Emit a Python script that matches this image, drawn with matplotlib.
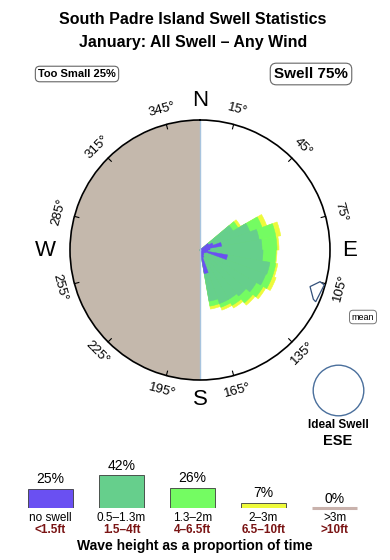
import matplotlib
matplotlib.use('Agg')
import matplotlib.pyplot as plt
import matplotlib.transforms as mtransforms
import numpy as np
from matplotlib.patches import Ellipse, Polygon

plt.rcParams['font.family'] = ['Liberation Sans', 'DejaVu Sans']

# ---------------- data ----------------
title1 = "South Padre Island Swell Statistics"
title2 = "January: All Swell \u2013 Any Wind"
too_small_label = "Too Small 25%"
swell_label = "Swell 75%"

# swell rose: 10-degree direction bins (centres, degrees true)
dir_centers = [55, 65, 75, 85, 95, 105, 115, 125, 135, 145, 155, 165]
# cumulative outer radius of each wave-height class (rose radius units, max 130)
no_swell_r = [10, 14, 22, 10, 8, 28, 6, 5, 5, 6, 8, 24]
r_05_13 = [38, 53, 60, 62, 63, 71, 70, 65, 60, 57, 57, 52]
r_13_2 = [44, 66, 77, 77, 76, 77, 77, 73, 69, 64, 61, 57]
r_2_3 = [47, 71, 82, 79, 77, 79, 81, 76, 72, 67, 64, 60]
rose_max = 130
bin_width = 10

dir_ticks = [15, 45, 75, 105, 135, 165, 195, 225, 255, 285, 315, 345]
compass = ['N', 'E', 'S', 'W']
compass_dirs = [0, 90, 180, 270]
mean_dir = 110
ideal_label = "Ideal Swell"
ideal_dir = "ESE"

# legend
cats = ["no swell", "0.5\u20131.3m", "1.3\u20132m", "2\u20133m", ">3m"]
feet = ["<1.5ft", "1.5\u20134ft", "4\u20136.5ft", "6.5\u201310ft", ">10ft"]
pct = [25, 42, 26, 7, 0]
legend_title = "Wave height as a proportion of time"

col_purple = '#6A50F2'
col_dgreen = '#66CF8C'
col_lgreen = '#74FC62'
col_yellow = '#EEFA3A'
col_big = '#C9B2AC'
cat_colors = [col_purple, col_dgreen, col_lgreen, col_yellow, col_big]
land = '#C4B8AC'
dark_red = '#7A1414'

# ---------------- figure ----------------
W, H = 390, 560
fig = plt.figure(figsize=(W / 100, H / 100), dpi=100)
fig.patch.set_facecolor('white')

def fx(x):
    return x / W

def fy(y):
    return 1 - y / H

fig.text(fx(193), fy(19), title1, ha='center', va='center', fontsize=11.5, fontweight='bold')
fig.text(fx(193), fy(42), title2, ha='center', va='center', fontsize=11.5, fontweight='bold')

box = dict(boxstyle='round,pad=0.25,rounding_size=0.4', fc='white', ec='#666666', lw=0.8)
fig.text(fx(77), fy(74), too_small_label, ha='center', va='center', fontsize=8, fontweight='bold', bbox=box)
fig.text(fx(311), fy(74), swell_label, ha='center', va='center', fontsize=11, fontweight='bold', bbox=box)

# polar rose
ax = fig.add_axes([fx(70), fy(380), 260 / W, 260 / H], projection='polar')
ax.set_theta_zero_location('N')
ax.set_theta_direction(-1)
ax.set_ylim(0, rose_max)
ax.set_xticks([])
ax.set_yticks([])
ax.grid(False)
ax.spines['polar'].set_color('black')
ax.spines['polar'].set_linewidth(1.2)

th_land = np.linspace(np.pi, 2 * np.pi, 300)
ax.fill_between(th_land, 0, rose_max, color=land, lw=0)
ax.plot([0, 0], [0, rose_max], color='#A8C4DE', lw=1)
ax.plot([np.pi, np.pi], [0, rose_max], color='#A8C4DE', lw=1)

theta = np.deg2rad(dir_centers)
w = np.deg2rad(bin_width)
ax.bar(theta, r_2_3, width=w, color=col_yellow, edgecolor=col_yellow, lw=0.4)
ax.bar(theta, r_13_2, width=w, color=col_lgreen, edgecolor=col_lgreen, lw=0.4)
ax.bar(theta, r_05_13, width=w, color=col_dgreen, edgecolor=col_dgreen, lw=0.4)
ax.bar(theta, no_swell_r, width=np.deg2rad(10), color=col_purple, edgecolor=col_purple, lw=0.3)

for d in dir_ticks:
    t = np.deg2rad(d)
    ax.plot([t, t], [rose_max * 0.965, rose_max], color='black', lw=0.8, clip_on=False)
    rot = -d
    while rot <= -90:
        rot += 180
    while rot > 90:
        rot -= 180
    ax.text(t, rose_max * 1.12, f"{d}\u00b0", ha='center', va='center',
            rotation=rot, rotation_mode='anchor', fontsize=9.5, clip_on=False)

for lab, d in zip(compass, compass_dirs):
    rr = rose_max * (1.19 if lab == 'W' else 1.15)
    ax.text(np.deg2rad(d), rr, lab, ha='center', va='center', fontsize=16, clip_on=False)

# mean direction arrow (outline shape relative to the mean direction)
arrow_da = [-1.6, -5.2, -4.3, 4.1, 3.5]
arrow_rf = [0.892, 0.955, 0.993, 0.975, 0.951]
arrow = [(np.deg2rad(mean_dir + da), rose_max * rf) for da, rf in zip(arrow_da, arrow_rf)]
ax.add_patch(Polygon(arrow, closed=True, fc='white', ec='#33507A', lw=0.9,
                     transform=ax.transData, clip_on=False, zorder=5))

fig.text(fx(363), fy(317), "mean", ha='center', va='center', fontsize=6.5,
         bbox=dict(boxstyle='round,pad=0.25,rounding_size=0.4', fc='white', ec='#777777', lw=0.7))

# ideal swell circle
fig.patches.append(Ellipse((fx(338.5), fy(390.5)), 2 * 25.3 / W, 2 * 25.3 / H,
                           transform=fig.transFigure, fill=False, ec='#4A6F9C', lw=1))
fig.text(fx(338), fy(425), ideal_label, ha='center', va='center', fontsize=8.5, fontweight='bold')
fig.text(fx(338), fy(441), ideal_dir, ha='center', va='center', fontsize=10.5, fontweight='bold')

# legend bars
lax = fig.add_axes([fx(15), fy(508), 355 / W, 45 / H])
lax.set_xlim(-0.5, 4.5)
lax.set_ylim(0, 45 / 0.78)
lax.axis('off')
bw = 0.63
xs = np.arange(len(pct))
lax.bar(xs, pct, width=bw, color=cat_colors, edgecolor='#3A3A3A', lw=0.6)
for i, p in enumerate(pct):
    if p == 0:
        lax.plot([i - bw / 2, i + bw / 2], [0, 0], color=col_big, lw=2.2, solid_capstyle='butt', clip_on=False)
    lax.text(i, p + 3.0, f"{p}%", ha='center', va='bottom', fontsize=10)

tr = mtransforms.blended_transform_factory(lax.transData, fig.transFigure)
for i, (c, f) in enumerate(zip(cats, feet)):
    lax.text(i, fy(518), c, ha='center', va='center', fontsize=8.5, transform=tr)
    lax.text(i, fy(530), f, ha='center', va='center', fontsize=8.5, fontweight='bold',
             color=dark_red, transform=tr)

fig.text(fx(195), fy(546), legend_title, ha='center', va='center', fontsize=10, fontweight='bold')

fig.savefig('out.png', dpi=100, facecolor='white')
